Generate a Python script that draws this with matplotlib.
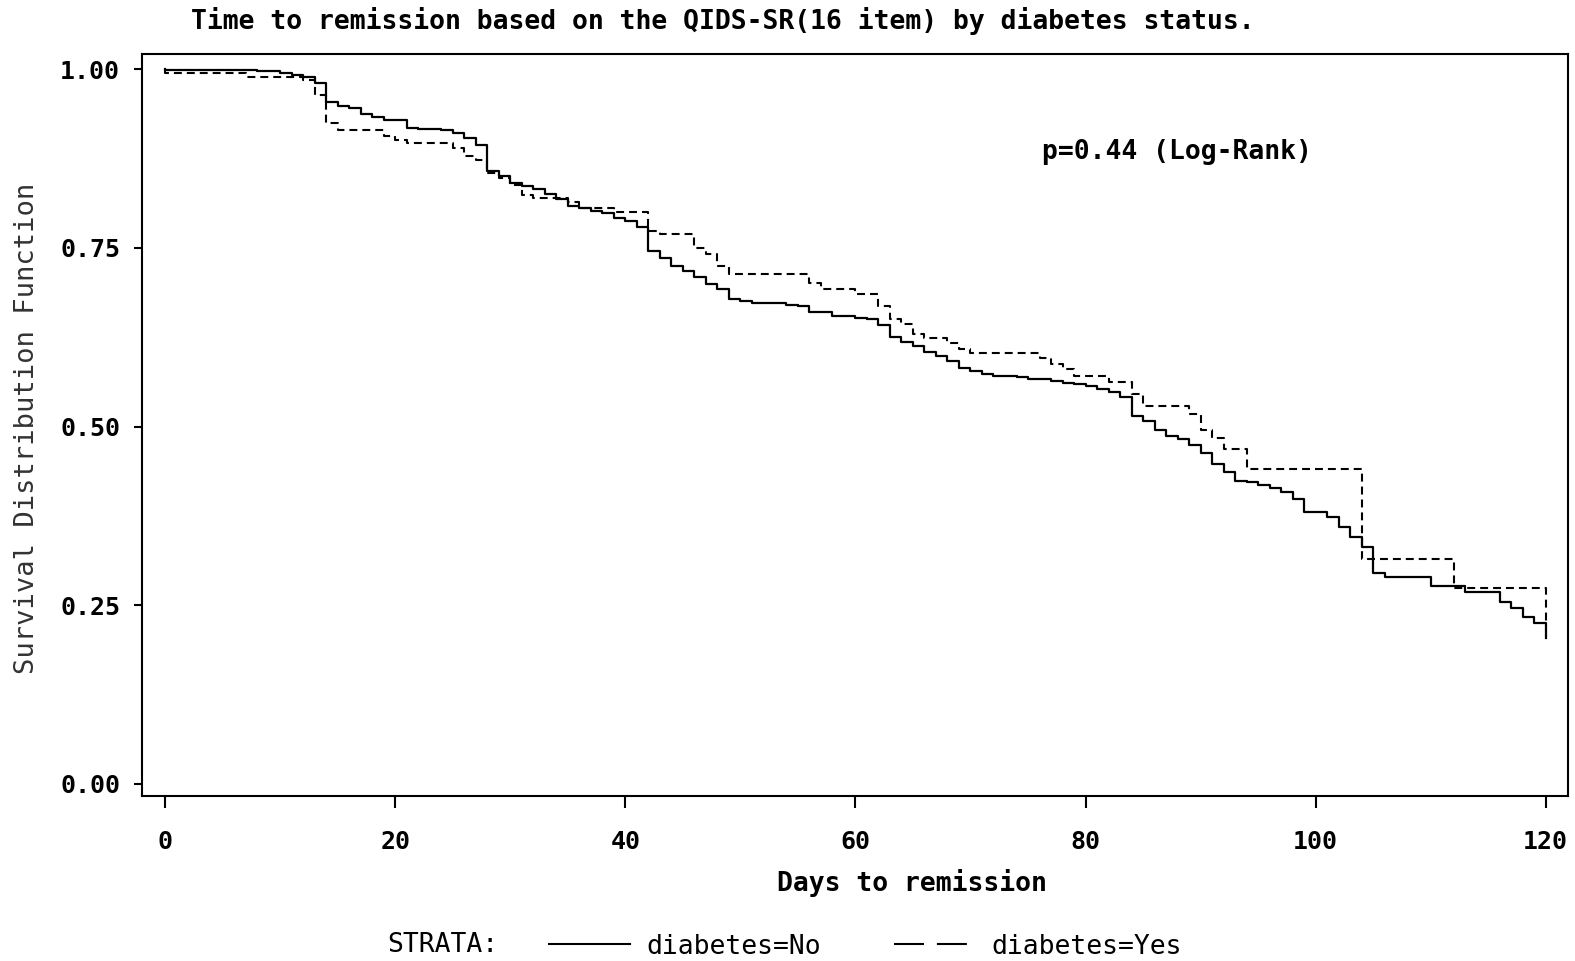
"""Kaplan-Meier curves: time to remission by diabetes status"""

import matplotlib

matplotlib.use("Agg")
import matplotlib.pyplot as plt
from matplotlib.lines import Line2D

plt.rcParams["font.family"] = ["DejaVu Sans Mono", "DejaVu Sans"]

# step points (day, survival)
days_no = [0, 0, 8, 10, 11, 12, 13, 14, 15, 16, 17, 18, 19, 21, 22, 24, 25, 26,
           27, 28, 29, 30, 31, 32, 33, 34, 35, 36, 37, 38, 39, 40, 41, 42, 43,
           44, 45, 46, 47, 48, 49, 50, 51, 54, 55, 56, 58, 60, 61, 62, 63, 64,
           65, 66, 67, 68, 69, 70, 71, 72, 74, 75, 77, 78, 79, 80, 81, 82, 83,
           84, 85, 86, 87, 88, 89, 90, 91, 92, 93, 94, 95, 96, 97, 98, 99, 101,
           102, 103, 104, 105, 106, 110, 113, 116, 117, 118, 119, 120]
surv_no = [1.0, 0.999, 0.997, 0.994, 0.992, 0.989, 0.981, 0.954, 0.948, 0.945,
           0.937, 0.933, 0.929, 0.918, 0.916, 0.915, 0.911, 0.904, 0.894, 0.858,
           0.851, 0.840, 0.836, 0.832, 0.825, 0.818, 0.808, 0.805, 0.801, 0.799,
           0.792, 0.787, 0.779, 0.746, 0.735, 0.725, 0.718, 0.709, 0.699, 0.692,
           0.679, 0.675, 0.673, 0.670, 0.668, 0.660, 0.655, 0.652, 0.650, 0.642,
           0.625, 0.618, 0.613, 0.604, 0.598, 0.591, 0.582, 0.577, 0.574, 0.571,
           0.569, 0.567, 0.564, 0.561, 0.559, 0.556, 0.552, 0.548, 0.541, 0.515,
           0.507, 0.495, 0.487, 0.482, 0.474, 0.463, 0.447, 0.436, 0.424, 0.422,
           0.418, 0.414, 0.409, 0.399, 0.381, 0.373, 0.359, 0.346, 0.332, 0.295,
           0.290, 0.277, 0.268, 0.255, 0.246, 0.234, 0.225, 0.204]

days_yes = [0, 0, 7, 12, 13, 14, 15, 19, 20, 21, 25, 26, 27, 28, 29, 30, 31, 32,
            35, 36, 39, 42, 43, 46, 47, 48, 49, 56, 57, 60, 62, 63, 64, 65, 66,
            68, 69, 70, 76, 77, 78, 79, 82, 84, 85, 89, 90, 91, 92, 94, 104, 112,
            120]
surv_yes = [1.0, 0.994, 0.989, 0.985, 0.963, 0.924, 0.915, 0.906, 0.901, 0.896,
            0.890, 0.878, 0.873, 0.855, 0.848, 0.838, 0.824, 0.819, 0.814, 0.805,
            0.800, 0.774, 0.769, 0.750, 0.741, 0.725, 0.714, 0.701, 0.692, 0.686,
            0.668, 0.650, 0.643, 0.630, 0.624, 0.617, 0.608, 0.603, 0.596, 0.588,
            0.580, 0.571, 0.562, 0.546, 0.528, 0.518, 0.495, 0.484, 0.469, 0.440,
            0.314, 0.274, 0.225]

x_ticks = [0, 20, 40, 60, 80, 100, 120]
y_ticks = [0.0, 0.25, 0.5, 0.75, 1.0]
labels = ["diabetes=No", "diabetes=Yes"]

fig = plt.figure(figsize=(15.75, 9.61), dpi=100)
ax = fig.add_axes([0.0900, 0.1720, 0.9056, 0.7718])

ax.step(days_no, surv_no, where="post", color="black", lw=1.6)
ax.step(days_yes, surv_yes, where="post", color="black", lw=1.5,
        dashes=(3.8, 2.4))

ax.set_xlim(-2.03, 121.94)
ax.set_ylim(-0.0164, 1.021)
ax.set_xticks(x_ticks)
ax.set_yticks(y_ticks)
ax.set_yticklabels([f"{v:.2f}" for v in y_ticks])
for sp in ax.spines.values():
    sp.set_linewidth(1.5)
ax.tick_params(axis="x", direction="out", length=8.5, width=1.5, pad=16,
               labelsize=18)
ax.tick_params(axis="y", direction="out", length=5.5, width=1.5, pad=10,
               labelsize=18)
for lab in ax.get_xticklabels() + ax.get_yticklabels():
    lab.set_fontweight("bold")

ax.text(76.2, 0.884, "p=0.44 (Log-Rank)", fontsize=19, fontweight="bold",
        va="center", ha="left")

fig.text(0.459, 0.978,
         "Time to remission based on the QIDS-SR(16 item) by diabetes status.",
         fontsize=19, fontweight="bold", ha="center", va="center")
fig.text(0.579, 0.0812, "Days to remission", fontsize=19, fontweight="bold",
         ha="center", va="center")
fig.text(0.0171, 0.5546, "Survival Distribution Function", fontsize=19.5,
         rotation=90, ha="center", va="center", color="#333333")

# legend row
fig.text(0.2457, 0.0166, "STRATA:", fontsize=19, ha="left", va="center")
handles = [
    Line2D([], [], color="black", lw=1.5),
    Line2D([], [], color="black", lw=1.5, dashes=(14.4, 6.2)),
]
fig.legend(handles, labels, ncol=2, frameon=False, loc="center",
           bbox_to_anchor=(0.5495, 0.0150), fontsize=19, handlelength=3.07,
           handletextpad=0.6, columnspacing=2.8, borderpad=0, borderaxespad=0)

fig.savefig("out.png", dpi=100)
